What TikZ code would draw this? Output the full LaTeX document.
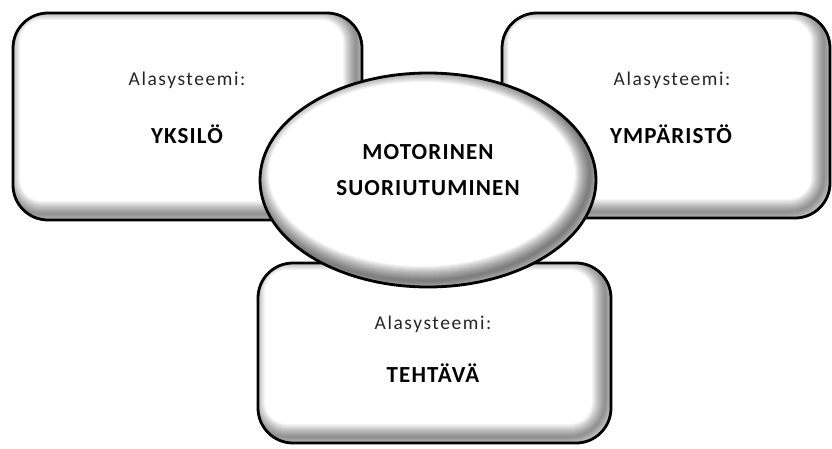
\documentclass[tikz,border=0pt]{standalone}
\usepackage{fontspec}
\usetikzlibrary{shapes.geometric}
\setmainfont{Carlito}
\begin{document}
\begin{tikzpicture}[x=1pt,y=-1pt,
  outline/.style={draw=black, line width=2.8pt},
  lbl/.style={font=\fontsize{19.5}{23}\selectfont\addfontfeatures{LetterSpace=8}, text=black!85, inner sep=0pt},
  ttl/.style={font=\fontsize{23}{27}\selectfont\bfseries\addfontfeatures{LetterSpace=5}, text=black, inner sep=0pt}]
\useasboundingbox (0,0) rectangle (832,448);
% generic inner-shadowed shape
\newcommand{\shadedbox}[4]{%
  \begin{scope}
    \clip[rounded corners=35] (#1,#2) rectangle (#3,#4);
    \fill[white] (#1,#2) rectangle (#3,#4);
    \foreach \w in {2,4,...,26}
      \draw[line width=\w, black, opacity=0.038, rounded corners=35]
        (#1-6,#2-6) rectangle (#3-6,#4-6);
  \end{scope}
  \draw[outline, rounded corners=35] (#1,#2) rectangle (#3,#4);}
\shadedbox{13}{13}{362}{220}
\shadedbox{502}{13}{830}{218}
\shadedbox{258}{263}{611}{443}
% ellipse
\begin{scope}
  \clip (428,180) ellipse [x radius=168, y radius=107];
  \fill[white] (428,180) ellipse [x radius=168, y radius=107];
  \foreach \w in {2,4,...,30}
    \draw[line width=\w, black, opacity=0.045] (422,174) ellipse [x radius=168, y radius=107];
\end{scope}
\node[outline, ellipse, minimum width=336, minimum height=214, inner sep=0pt] (m) at (428,180) {};
% texts
\node[lbl] (l1) at (187,80) {Alasysteemi:};
\node[ttl] (l2) at (187,134) {YKSILÖ};
\node[lbl] (r1) at (672,80) {Alasysteemi:};
\node[ttl] (r2) at (671,134) {YMPÄRISTÖ};
\node[lbl] (b1) at (433,324) {Alasysteemi:};
\node[ttl] (b2) at (433,373) {TEHTÄVÄ};
\node[ttl] (m1) at (428,152) {MOTORINEN};
\node[ttl] (m2) at (428,188) {SUORIUTUMINEN};
\end{tikzpicture}
\end{document}
